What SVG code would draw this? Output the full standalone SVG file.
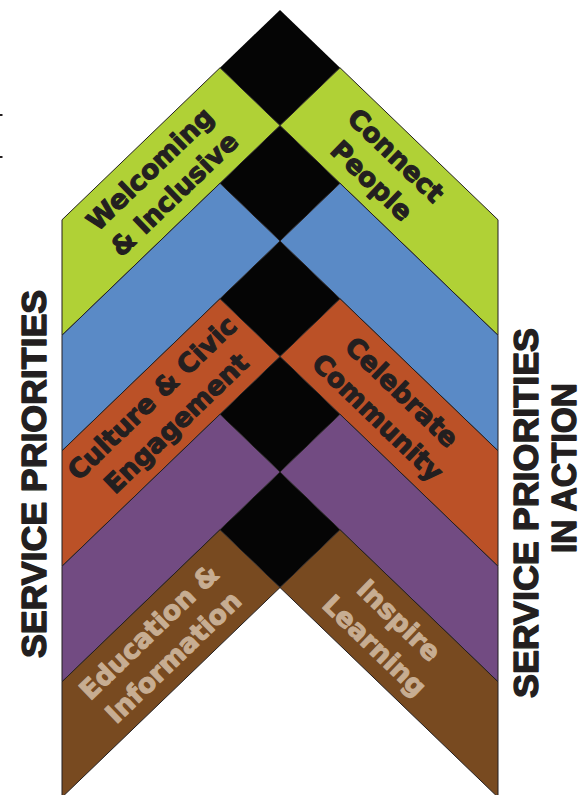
<svg xmlns="http://www.w3.org/2000/svg" width="587" height="795" viewBox="0 0 587 795">
<style>
.arm{stroke:#231f20;stroke-width:1;stroke-linejoin:miter}
.g{fill:#b0d136}.b{fill:#5a8ac6}.o{fill:#bb5127}.p{fill:#724b82}.br{fill:#784a20}
.dia{fill:#050505}
.lbl{font-family:"DejaVu Sans","Liberation Sans",sans-serif;font-weight:bold;font-size:26.5px;text-anchor:middle;stroke-linejoin:round}
.dark{fill:#231f20;stroke:#231f20;stroke-width:1.1}
.tan{fill:#c7ad92;stroke:#c7ad92;stroke-width:1.1}
.side{font-family:"Liberation Sans",Arial,sans-serif;font-weight:bold;font-size:35px;text-anchor:middle;fill:#231f20;stroke:#231f20;stroke-width:1.4;stroke-linejoin:round}
</style>
<rect width="587" height="795" fill="#ffffff"/>
<g id="marks" fill="#231f20">
<rect x="0" y="114" width="2.5" height="2"/>
<rect x="0" y="156" width="2.5" height="2"/>
</g>
<g id="diamonds" class="dia">
<polygon points="280,10 340,67.75 280,125.5 220,67.75"/>
<polygon points="280,125.5 340,183.25 280,241 220,183.25"/>
<polygon points="280,241 340,298.75 280,356.5 220,298.75"/>
<polygon points="280,356.5 340,414.25 280,472 220,414.25"/>
<polygon points="280,472 340,529.75 280,587.5 220,529.75"/>
</g>
<g id="connectors"></g>
<g id="welcoming-inclusive">
<polygon class="arm g" points="62,219.8 220,67.75 280,125.5 62,335.3"/>
<g transform="translate(162,181.3) rotate(-43.9)"><text class="lbl dark" x="0" y="-8">Welcoming</text><text class="lbl dark" x="0" y="27">&amp; Inclusive</text></g>
</g>
<g id="left-blue"><polygon class="arm b" points="62,335.3 220,183.25 280,241 62,450.8"/></g>
<g id="culture-civic">
<polygon class="arm o" points="62,450.8 220,298.75 280,356.5 62,566.3"/>
<g transform="translate(164,410.4) rotate(-43.9)"><text class="lbl dark" x="0" y="-8">Culture &amp; Civic</text><text class="lbl dark" x="0" y="27">Engagement</text></g>
</g>
<g id="left-purple"><polygon class="arm p" points="62,566.3 220,414.25 280,472 62,681.8"/></g>
<g id="education-information">
<polygon class="arm br" points="62,681.8 220,529.75 280,587.5 62,797.3"/>
<g transform="translate(161,644.3) rotate(-43.9)"><text class="lbl tan" x="0" y="-8">Education &amp;</text><text class="lbl tan" x="0" y="27">Information</text></g>
</g>
<g id="connect-people">
<polygon class="arm g" points="498,219.8 340,67.75 280,125.5 498,335.3"/>
<g transform="translate(384,167.9) rotate(43.9)"><text class="lbl dark" x="0" y="-8">Connect</text><text class="lbl dark" x="0" y="27">People</text></g>
</g>
<g id="right-blue"><polygon class="arm b" points="498,335.3 340,183.25 280,241 498,450.8"/></g>
<g id="celebrate-community">
<polygon class="arm o" points="498,450.8 340,298.75 280,356.5 498,566.3"/>
<g transform="translate(390,404.6) rotate(43.9)"><text class="lbl dark" x="0" y="-8">Celebrate</text><text class="lbl dark" x="0" y="27">Community</text></g>
</g>
<g id="right-purple"><polygon class="arm p" points="498,566.3 340,414.25 280,472 498,681.8"/></g>
<g id="inspire-learning">
<polygon class="arm br" points="498,681.8 340,529.75 280,587.5 498,797.3"/>
<g transform="translate(387,632.7) rotate(43.9)"><text class="lbl tan" x="0" y="-8">Inspire</text><text class="lbl tan" x="0" y="27">Learning</text></g>
</g>
<g id="service-priorities">
<text class="side" transform="translate(46,474) rotate(-90)" textLength="368" lengthAdjust="spacingAndGlyphs">SERVICE PRIORITIES</text>
</g>
<g id="service-priorities-in-action">
<text class="side" transform="translate(538,513) rotate(-90)" textLength="370" lengthAdjust="spacingAndGlyphs">SERVICE PRIORITIES</text>
<text class="side" transform="translate(576,468) rotate(-90)" textLength="170" lengthAdjust="spacingAndGlyphs">IN ACTION</text>
</g>
</svg>
